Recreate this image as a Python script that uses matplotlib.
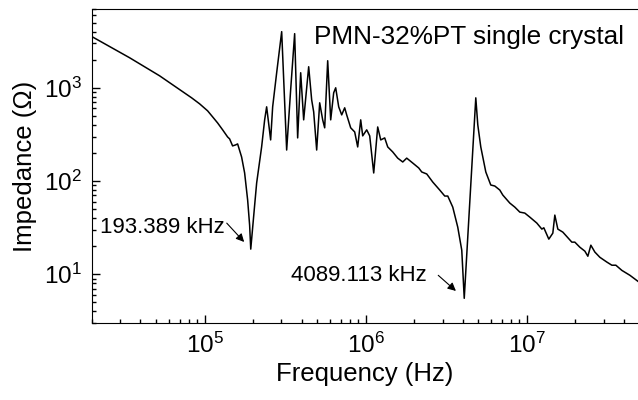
import numpy as np
import matplotlib
matplotlib.use('Agg')
import matplotlib.pyplot as plt
from matplotlib.ticker import LogLocator, NullFormatter

plt.rcParams['font.family'] = ['Liberation Sans', 'DejaVu Sans']
plt.rcParams['mathtext.default'] = 'regular'

# frecuencias (Hz) y impedancia (ohm)
freq = [2.0e4, 3.42e4, 5.25e4, 8.31e4, 9.31e4, 1.044e5, 1.121e5, 1.204e5, 1.294e5,
        1.389e5, 1.430e5, 1.492e5, 1.558e5, 1.603e5, 1.697e5, 1.772e5, 1.850e5,
        1.903e5, 1.93389e5, 2.045e5, 2.104e5, 2.259e5, 2.359e5, 2.427e5, 2.570e5,
        2.645e5, 2.801e5, 3.009e5, 3.231e5, 3.421e5, 3.622e5, 3.781e5, 3.948e5,
        4.120e5, 4.426e5, 4.619e5, 4.754e5, 4.962e5, 5.180e5, 5.407e5, 5.564e5,
        5.808e5, 6.063e5, 6.328e5, 6.512e5, 6.798e5, 7.096e5, 7.406e5, 7.621e5,
        8.069e5, 8.544e5, 8.918e5, 9.310e5, 9.580e5, 1.0144e6, 1.0588e6, 1.1212e6,
        1.187e6, 1.2395e6, 1.312e6, 1.370e6, 1.4717e6, 1.580e6, 1.698e6, 1.797e6,
        1.958e6, 2.134e6, 2.228e6, 2.393e6, 2.607e6, 2.881e6, 3.095e6, 3.231e6,
        3.470e6, 3.727e6, 3.947e6, 4.089113e6, 4.823e6, 4.963e6, 5.180e6, 5.565e6,
        5.975e6, 6.328e6, 6.798e6, 7.096e6, 7.843e6, 8.424e6, 9.047e6, 9.718e6,
        1.0438e7, 1.1539e7, 1.2397e7, 1.2755e7, 1.3696e7, 1.4503e7, 1.4925e7,
        1.5579e7, 1.6734e7, 1.9034e7, 1.9867e7, 2.1341e7, 2.2922e7, 2.3927e7,
        2.4975e7, 2.6448e7, 2.841e7, 3.141e7, 3.373e7, 3.571e7, 3.891e7, 4.363e7,
        4.891e7]
imp = [3535, 2102, 1346, 780, 673, 566, 488, 420, 354,
       297, 283, 238, 244, 250, 181, 122, 62.5,
       33.6, 18.6, 55.2, 95.2, 232, 453, 625, 276,
       625, 1450, 4001, 215, 952, 3807, 290, 1450,
       453, 1682, 743, 552, 215, 690, 453, 372,
       1951, 453, 884, 1000, 625, 512, 610, 512,
       372, 336, 232, 453, 305, 354, 305, 122,
       380, 276, 290, 232, 205, 176, 160, 176,
       156, 138, 125, 119, 97.5, 80.0, 69.0, 69.0,
       52.5, 32.0, 18.1, 5.52, 780, 400, 232, 125,
       90.6, 88.4, 80.0, 70.7, 58.0, 52.5, 46.4, 45.3,
       41.0, 35.4, 30.5, 31.5, 23.8, 27.6, 43.1,
       30.5, 28.3, 22.1, 22.1, 19.5, 17.7, 15.6,
       20.5, 17.3, 15.2, 13.5, 12.5, 12.5, 11.0, 9.75,
       8.41]

texto = 'PMN-32%PT single crystal'
res1_f, res1_z = 1.93389e5, 18.6
res2_f, res2_z = 4.089113e6, 5.52

fig = plt.figure(figsize=(6.38, 4.0), dpi=100)
ax = fig.add_axes([0.1442, 0.1925, 0.8558, 0.785])

ax.plot(freq, imp, '-', color='black', lw=1.1)
ax.set_xscale('log')
ax.set_yscale('log')
ax.set_xlim(2e4, 4.9e7)
ax.set_ylim(3, 7000)

ax.spines['right'].set_visible(False)
ax.xaxis.set_major_locator(LogLocator(base=10, numticks=10))
ax.xaxis.set_minor_locator(LogLocator(base=10, subs=np.arange(2, 10), numticks=50))
ax.yaxis.set_minor_locator(LogLocator(base=10, subs=np.arange(2, 10), numticks=50))
ax.xaxis.set_minor_formatter(NullFormatter())
ax.yaxis.set_minor_formatter(NullFormatter())
ax.tick_params(which='both', direction='in', top=False, right=False, width=1.0)
ax.tick_params(which='major', length=6, labelsize=17.5)
ax.tick_params(which='minor', length=3)
ax.tick_params(axis='x', which='major', pad=7)
ax.tick_params(axis='y', which='major', pad=7)

ax.set_xlabel('Frequency (Hz)', fontsize=18.5, labelpad=3)
ax.set_ylabel('Impedance (\u03a9)', fontsize=18.5, labelpad=5)

ax.text(0.974, 0.888, texto, transform=ax.transAxes, ha='right', va='baseline',
        fontsize=18.8)

# anotaciones de resonancia
ax.annotate('193.389 kHz', xy=(res1_f, res1_z), xytext=(-26, 16),
            textcoords='offset pixels', ha='right', va='baseline', fontsize=16)
ax.annotate('', xy=(res1_f, res1_z), xytext=(-24, 26), textcoords='offset pixels',
            arrowprops=dict(arrowstyle='-|>', color='black', lw=0.8,
                            shrinkA=0, shrinkB=7, mutation_scale=12))
ax.annotate('4089.113 kHz', xy=(res2_f, res2_z), xytext=(-37, 17),
            textcoords='offset pixels', ha='right', va='baseline', fontsize=16)
ax.annotate('', xy=(res2_f, res2_z), xytext=(-26, 23), textcoords='offset pixels',
            arrowprops=dict(arrowstyle='-|>', color='black', lw=0.8,
                            shrinkA=0, shrinkB=8, mutation_scale=12))

fig.savefig('out.png', dpi=100)
